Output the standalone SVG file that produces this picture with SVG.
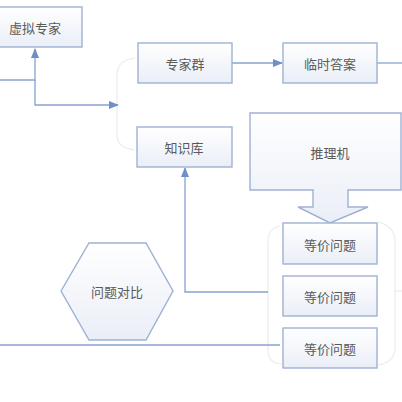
<svg xmlns="http://www.w3.org/2000/svg" width="402" height="402" viewBox="0 0 402 402">
<defs>
<linearGradient id="g" x1="0" y1="0" x2="0" y2="1">
<stop offset="0" stop-color="#ffffff"/>
<stop offset="1" stop-color="#eaeef7"/>
</linearGradient>
<marker id="ah" markerWidth="10" markerHeight="8" refX="9" refY="4" orient="auto" markerUnits="userSpaceOnUse">
<path d="M0,0 L10,4 L0,8 Z" fill="#6f8fc8"/>
</marker>
<style>
.box{fill:url(#g);stroke:#9eb1d3;stroke-width:1.4}
.t{font-family:"Noto Sans CJK SC","Noto Sans",sans-serif;font-size:13px;fill:#5a5a5a;text-anchor:middle;dominant-baseline:central}
.ln{fill:none;stroke:#86a2d2;stroke-width:1.3}
.faint{fill:none;stroke:#ececec;stroke-width:1.2}
</style>
</defs>
<rect width="402" height="402" fill="#fff"/>
<g id="brackets">
<path class="faint" d="M135,58 Q117,60 117,75 L117,135 Q117,148 135,150"/>
<path class="faint" d="M280,226 Q268,228 268,242 L268,350 Q268,364 282,364"/>
<path class="faint" d="M378,222 Q395,226 395,242 L395,348 Q395,362 378,365"/>
<path class="faint" d="M395,291 L402,291"/>
</g>
<g id="connectors">
<path class="ln" d="M0,80 L35,80 L35,49" marker-end="url(#ah)"/>
<path class="ln" d="M35,80 L35,105 L118,105" marker-end="url(#ah)"/>
<path class="ln" d="M232,63 L282,63" marker-end="url(#ah)"/>
<path class="ln" d="M377,63 L402,63"/>
<path class="ln" d="M268,292 L185,292 L185,168" marker-end="url(#ah)"/>
<path class="ln" d="M0,345 L280,345"/>
</g>
<g id="n-xunizhuanjia"><rect class="box" x="-2" y="7" width="84" height="40"/><text class="t" x="35" y="27">虚拟专家</text></g>
<g id="n-zhuanjiaqun"><rect class="box" x="138" y="43" width="94" height="40"/><text class="t" x="185" y="63">专家群</text></g>
<g id="n-linshidaan"><rect class="box" x="283" y="43" width="94" height="40"/><text class="t" x="330" y="63">临时答案</text></g>
<g id="n-zhishiku"><rect class="box" x="137" y="127" width="95" height="40"/><text class="t" x="184" y="147">知识库</text></g>
<g id="n-tuiliji">
<path class="box" d="M250,113 L401,113 L401,190 L348,190 L348,207 L368,207 L330,223 L298,207 L313,207 L313,190 L250,190 Z"/>
<text class="t" x="330" y="152">推理机</text>
</g>
<g id="n-dengjia1"><rect class="box" x="283" y="223" width="94" height="41"/><text class="t" x="330" y="244">等价问题</text></g>
<g id="n-dengjia2"><rect class="box" x="283" y="276" width="94" height="40"/><text class="t" x="330" y="296">等价问题</text></g>
<g id="n-dengjia3"><rect class="box" x="283" y="328" width="94" height="40"/><text class="t" x="330" y="348">等价问题</text></g>
<g id="n-wentiduibi"><polygon class="box" points="61,291 89,243 146,243 173,291 146,340 89,340"/><text class="t" x="117" y="291">问题对比</text></g>
</svg>
